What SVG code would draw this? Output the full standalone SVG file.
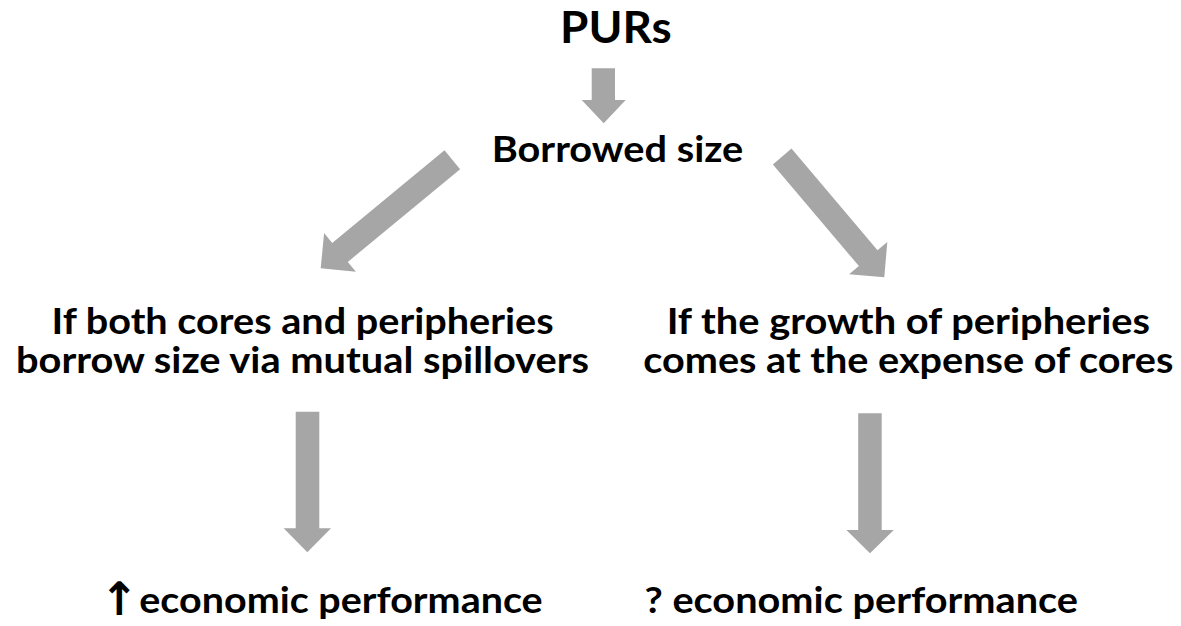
<svg xmlns="http://www.w3.org/2000/svg" width="1181" height="626" viewBox="0 0 1181 626">
  <style>
    .t { font-family: Lato, "Liberation Sans", sans-serif; font-weight: bold; fill: #000; }
    .b { font-size: 37px; }
    .big { font-size: 43px; }
    .sym { font-family: "DejaVu Sans", sans-serif; font-weight: bold; font-size: 46px; }
    .arw { fill: #a6a6a6; stroke: none; }
  </style>
  <rect width="1181" height="626" fill="#ffffff"/>
  <g id="connectors">
    <polygon class="arw" points="591.7,68.3 615,68.3 615,100 625.7,100 603.7,123.3 581.7,100 591.7,100"/>
    <polygon class="arw" points="460.1,169.2 347.8,261.9 355.9,271.7 320.7,268.3 324.1,233.1 332.2,242.9 444.5,150.2"/>
    <polygon class="arw" points="791.5,148.6 877.5,250.3 887.3,242.1 884.3,277.3 849.1,274.3 858.9,266.1 772.9,164.4"/>
    <polygon class="arw" points="295.7,411.7 319.3,411.7 319.3,528.3 331,528.3 307.3,552.3 283.7,528.3 295.7,528.3"/>
    <polygon class="arw" points="858.2,413.3 881.7,413.3 881.7,530 893.8,530 870,553.3 846.4,530 858.2,530"/>
  </g>
  <g id="node-purs">
    <text class="t big" x="560" y="43.3" textLength="111.7" lengthAdjust="spacingAndGlyphs">PURs</text>
  </g>
  <g id="node-borrowed">
    <text class="t b" x="491.7" y="162.3" textLength="251.6" lengthAdjust="spacingAndGlyphs">Borrowed size</text>
  </g>
  <g id="node-left">
    <text class="t b"><tspan x="51.6" y="334.3" textLength="502" lengthAdjust="spacingAndGlyphs">If both cores and peripheries</tspan><tspan x="16" y="373.3" textLength="573" lengthAdjust="spacingAndGlyphs">borrow size via mutual spillovers</tspan></text>
  </g>
  <g id="node-right">
    <text class="t b"><tspan x="666.7" y="334.3" textLength="483.3" lengthAdjust="spacingAndGlyphs">If the growth of peripheries</tspan><tspan x="643.3" y="373.3" textLength="530" lengthAdjust="spacingAndGlyphs">comes at the expense of cores</tspan></text>
  </g>
  <g id="node-bottom-left">
    <text class="t b" y="613.3"><tspan class="sym" x="100" y="615">↑</tspan><tspan x="139.3" y="613.3" textLength="403.4" lengthAdjust="spacingAndGlyphs">economic performance</tspan></text>
  </g>
  <g id="node-bottom-right">
    <text class="t b" x="644.5" y="613.3" textLength="433.5" lengthAdjust="spacingAndGlyphs">? economic performance</text>
  </g>
</svg>
